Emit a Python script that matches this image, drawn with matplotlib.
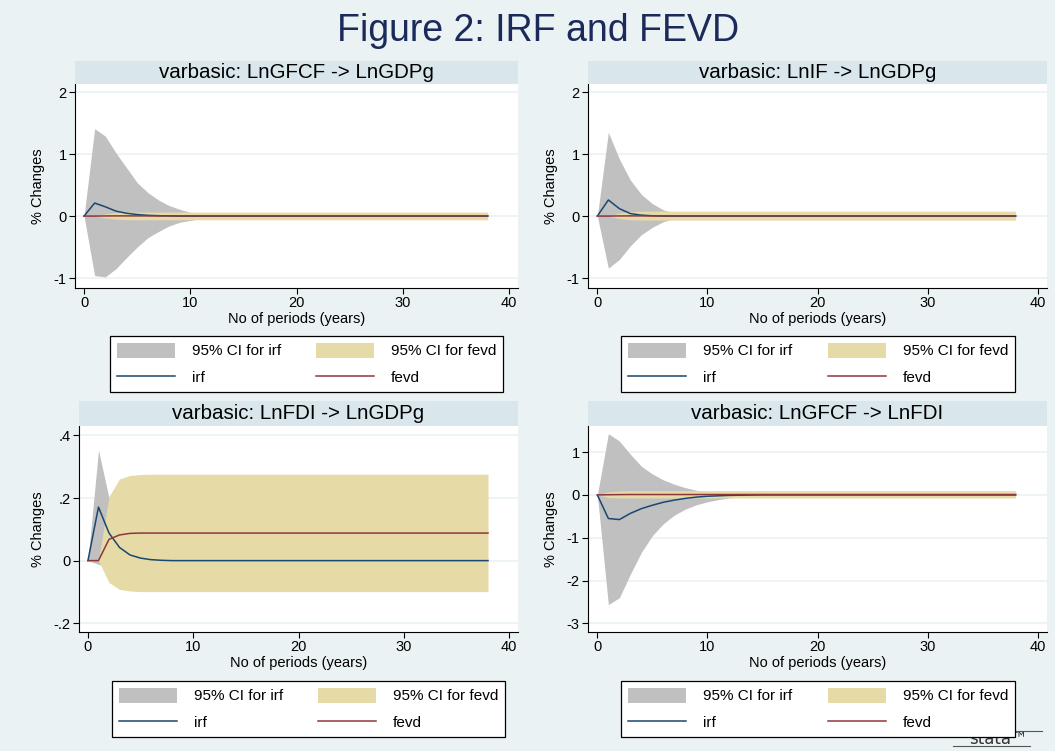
import numpy as np
import matplotlib.pyplot as plt
from matplotlib.patches import Rectangle

plt.rcParams['font.family'] = ['Liberation Sans', 'DejaVu Sans']

steps = list(range(39))

# LnGFCF -> LnGDPg
irf_1 = [0, 0.21, 0.15, 0.08, 0.045, 0.025, 0.012, 0.006, 0.003] + [0.0] * 30
irf_lo_1 = [0, -0.96, -0.98, -0.85, -0.67, -0.5, -0.35, -0.25, -0.16, -0.1, -0.07, -0.04, -0.02, -0.01] + [0.0] * 25
irf_hi_1 = [0, 1.41, 1.29, 1.02, 0.78, 0.54, 0.38, 0.26, 0.17, 0.11, 0.06, 0.04, 0.02, 0.01] + [0.0] * 25
fevd_1 = [0, 0, 0.002, 0.003, 0.003] + [0.003] * 34
fevd_lo_1 = [0, 0, -0.03, -0.05, -0.058] + [-0.06] * 34
fevd_hi_1 = [0, 0, 0.035, 0.055, 0.062] + [0.065] * 34

# LnIF -> LnGDPg
irf_2 = [0, 0.26, 0.12, 0.04, 0.015, 0.005] + [0.0] * 33
irf_lo_2 = [0, -0.84, -0.7, -0.48, -0.3, -0.18, -0.09, -0.04, -0.02] + [0.0] * 30
irf_hi_2 = [0, 1.35, 0.92, 0.58, 0.35, 0.2, 0.1, 0.05, 0.02] + [0.0] * 30
fevd_2 = [0, 0, 0.002, 0.003] + [0.003] * 35
fevd_lo_2 = [0, 0, -0.04, -0.06, -0.064] + [-0.065] * 34
fevd_hi_2 = [0, 0, 0.05, 0.07, 0.078] + [0.08] * 34

# LnFDI -> LnGDPg
irf_3 = [0, 0.171, 0.088, 0.042, 0.018, 0.008, 0.003, 0.001] + [0.0] * 31
irf_lo_3 = [0, -0.012, -0.02, -0.01, -0.005, -0.002] + [0.0] * 33
irf_hi_3 = [0, 0.353, 0.2, 0.1, 0.05, 0.025, 0.01] + [0.005] * 32
fevd_3 = [0, 0, 0.068, 0.082, 0.087] + [0.088] * 34
fevd_lo_3 = [0, 0, -0.07, -0.092, -0.097] + [-0.099] * 34
fevd_hi_3 = [0, 0, 0.205, 0.261, 0.272, 0.275] + [0.276] * 33

# LnGFCF -> LnFDI
irf_4 = [0, -0.55, -0.575, -0.43, -0.32, -0.24, -0.17, -0.12, -0.08, -0.05, -0.03,
         -0.02, -0.01, -0.006, -0.003] + [0.0] * 24
irf_lo_4 = [0, -2.56, -2.4, -1.85, -1.34, -0.95, -0.67, -0.47, -0.33, -0.23, -0.16,
            -0.11, -0.07, -0.04, -0.02, -0.01] + [0.0] * 23
irf_hi_4 = [0, 1.43, 1.26, 0.95, 0.67, 0.49, 0.35, 0.25, 0.17, 0.11, 0.07,
            0.05, 0.03, 0.02, 0.01] + [0.0] * 24
fevd_4 = [0, 0.005, 0.008, 0.01] + [0.01] * 35
fevd_lo_4 = [0, -0.06, -0.07, -0.07] + [-0.07] * 35
fevd_hi_4 = [0, 0.07, 0.09, 0.1] + [0.1] * 35

panels = [
    ('varbasic: LnGFCF -> LnGDPg', irf_1, irf_lo_1, irf_hi_1, fevd_1, fevd_lo_1, fevd_hi_1,
     [-1, 0, 1, 2], ['-1', '0', '1', '2'], (-1.16, 2.13)),
    ('varbasic: LnIF -> LnGDPg', irf_2, irf_lo_2, irf_hi_2, fevd_2, fevd_lo_2, fevd_hi_2,
     [-1, 0, 1, 2], ['-1', '0', '1', '2'], (-1.16, 2.13)),
    ('varbasic: LnFDI -> LnGDPg', irf_3, irf_lo_3, irf_hi_3, fevd_3, fevd_lo_3, fevd_hi_3,
     [-0.2, 0, 0.2, 0.4], ['-.2', '0', '.2', '.4'], (-0.228, 0.43)),
    ('varbasic: LnGFCF -> LnFDI', irf_4, irf_lo_4, irf_hi_4, fevd_4, fevd_lo_4, fevd_hi_4,
     [-3, -2, -1, 0, 1], ['-3', '-2', '-1', '0', '1'], (-3.2, 1.61)),
]

W, H = 1055, 751
bg = '#eaf2f3'
band = '#d9e6eb'
c_irf = '#1a476f'
c_fevd = '#90353b'
c_ci_irf = '#c0c0c0'
c_ci_fevd = '#e6daa6'

# pixel boxes: (left, right, band_top, axes_top, axes_bottom), legend box (x0, x1, y0, y1)
boxes = [
    (75, 518, 61, 84, 288, (110, 503, 336, 390)),
    (588, 1047, 61, 84, 288, (621, 1015, 336, 390)),
    (79, 518, 401, 426, 632, (112, 505, 681, 734)),
    (588, 1047, 401, 426, 632, (621, 1015, 681, 734)),
]

fig = plt.figure(figsize=(W / 100, H / 100), dpi=100, facecolor=bg)
fig.text(538 / W, 1 - 31 / H, 'Figure 2: IRF and FEVD', ha='center', va='center',
         fontsize=27, color='#1c2a5a')

for (title, irf, irf_lo, irf_hi, fevd, fevd_lo, fevd_hi, yt, ytl, ylim), \
        (l, r, bt, at, ab, lg) in zip(panels, boxes):
    ax = fig.add_axes([l / W, 1 - ab / H, (r - l) / W, (ab - at) / H])
    ax.set_facecolor('white')
    fig.add_artist(Rectangle((l / W, 1 - at / H), (r - l) / W, (at - bt) / H,
                             transform=fig.transFigure, facecolor=band, edgecolor='none'))
    fig.text((l + r) / 2 / W, 1 - (bt + at) / 2 / H, title, ha='center', va='center',
             fontsize=14.8, color='black')

    h1 = ax.fill_between(steps, irf_lo, irf_hi, color=c_ci_irf, lw=0)
    h2 = ax.fill_between(steps, fevd_lo, fevd_hi, color=c_ci_fevd, lw=0)
    h3, = ax.plot(steps, irf, color=c_irf, lw=1.1)
    h4, = ax.plot(steps, fevd, color=c_fevd, lw=1.1)

    ax.set_xlim(-0.85, 40.85)
    ax.set_ylim(*ylim)
    ax.set_xticks([0, 10, 20, 30, 40])
    ax.set_yticks(yt)
    ax.set_yticklabels(ytl)
    ax.grid(axis='y', color='#eaf2f3', lw=1.2)
    ax.set_axisbelow(True)
    for s in ['top', 'right']:
        ax.spines[s].set_visible(False)
    ax.tick_params(labelsize=10.5, length=4, width=0.8, pad=2)
    ax.set_xlabel('No of periods (years)', fontsize=10.5, labelpad=1.5)
    ax.set_ylabel('% Changes', fontsize=10.5, labelpad=6)

    # column-major fill: row 1 = CI bands, row 2 = lines
    x0, x1, y0, y1 = lg
    leg = fig.legend([h1, h3, h2, h4], ['95% CI for irf', 'irf', '95% CI for fevd', 'fevd'],
                     ncol=2, loc='upper left', mode='expand',
                     bbox_to_anchor=(x0 / W, 1 - y1 / H, (x1 - x0) / W, (y1 - y0) / H),
                     fontsize=11, frameon=True, fancybox=False, edgecolor='black',
                     facecolor='white', framealpha=1,
                     handlelength=3.8, handleheight=1.1, handletextpad=1.1,
                     borderaxespad=0, borderpad=0.45, labelspacing=0.75)
    leg.get_frame().set_linewidth(0.9)

# stata logo
fig.text(998 / W, 1 - 739 / H, 'stata\u2122', ha='center', va='center', fontsize=12,
         color='#333333', family=['DejaVu Sans'])
fig.add_artist(plt.Line2D([953 / W, 1042 / W], [1 - 731 / H, 1 - 731 / H],
                          transform=fig.transFigure, color='#555555', lw=0.8))
fig.add_artist(plt.Line2D([953 / W, 1030 / W], [1 - 746 / H, 1 - 746 / H],
                          transform=fig.transFigure, color='#555555', lw=0.8))

fig.savefig('out.png', dpi=100, facecolor=bg)
